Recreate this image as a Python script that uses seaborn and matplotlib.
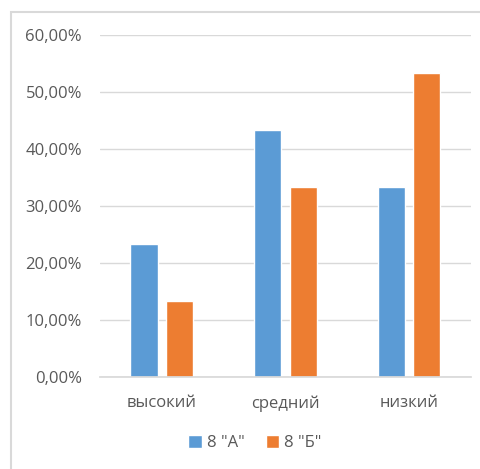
import matplotlib
matplotlib.use("Agg")
import matplotlib.pyplot as plt
import pandas as pd
import seaborn as sns
from matplotlib.patches import Rectangle
from matplotlib.ticker import FuncFormatter

categories = ["высокий", "средний", "низкий"]
groups = ['8 "А"', '8 "Б"']
values_a = [23.33, 43.33, 33.33]
values_b = [13.33, 33.33, 53.33]
yticks = [0, 10, 20, 30, 40, 50, 60]

df = pd.DataFrame({
    "level": categories * 2,
    "group": [groups[0]] * 3 + [groups[1]] * 3,
    "value": values_a + values_b,
})

sns.set_theme(style="white")
plt.rcParams["font.family"] = ["Open Sans", "DejaVu Sans"]

text_color = "#595959"
grid_color = "#d9d9d9"

fig = plt.figure(figsize=(4.81, 4.69), dpi=100)
ax = fig.add_axes([0.208, 0.196, 0.771, 0.729])

sns.barplot(data=df, x="level", y="value", hue="group", order=categories,
            hue_order=groups, palette=["#5b9bd5", "#ed7d31"], saturation=1,
            width=0.574, gap=0.23, ax=ax, legend=True)

ax.set_ylim(0, 60)
ax.set_xlim(-0.5, 2.5)
ax.set_yticks(yticks)
ax.yaxis.set_major_formatter(FuncFormatter(lambda v, p: f"{v:.2f}%".replace(".", ",")))
ax.grid(axis="y", color=grid_color, linewidth=1)
ax.set_axisbelow(True)
for s in ["top", "right", "left"]:
    ax.spines[s].set_visible(False)
ax.spines["bottom"].set_color(grid_color)
ax.set_xlabel("")
ax.set_ylabel("")
ax.tick_params(axis="both", length=0, colors=text_color, labelsize=12)
ax.tick_params(axis="y", pad=13)
ax.tick_params(axis="x", pad=13)

handles, labels = ax.get_legend_handles_labels()
ax.legend_.remove()
fig.legend(handles, labels, loc="center", bbox_to_anchor=(0.53, 0.055),
           ncol=2, frameon=False, handlelength=0.8, handleheight=0.8,
           handletextpad=0.3, columnspacing=1.3, fontsize=12,
           labelcolor=text_color)

# chart frame (cropped on the right and bottom)
fig.patches.append(Rectangle((11 / 481, -0.1), 1.2, 1 - 12 / 469 + 0.1,
                             transform=fig.transFigure, fill=False,
                             edgecolor=grid_color, linewidth=1.5))

fig.savefig("out.png", dpi=100)
